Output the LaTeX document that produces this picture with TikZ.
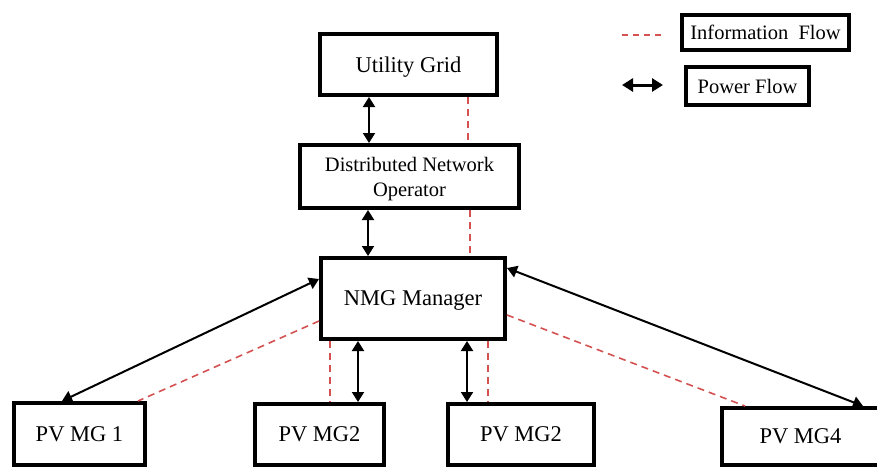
\documentclass[tikz,border=0pt]{standalone}
\usepackage{fontspec}
\setmainfont{Liberation Serif}
\usetikzlibrary{arrows.meta}
\definecolor{infored}{RGB}{212,82,82}
\begin{document}
\begin{tikzpicture}[x=1pt,y=-1pt,
  box/.style={draw=black,line width=4pt,rectangle,inner sep=0pt,align=center,text depth=0pt,
    font=\fontsize{22.5}{27}\selectfont},
  smallbox/.style={box,font=\fontsize{20.5}{25}\selectfont},
  power/.style={line width=2pt,{Triangle[width=12pt,length=10pt]}-{Triangle[width=12pt,length=10pt]}},
  info/.style={infored,line width=1.6pt,dash pattern=on 7pt off 5pt}]
\clip (0,0) rectangle (877,469);
% boxes
\node[box,minimum width=177pt,minimum height=61pt] (ug) at (408.5,64.5) {Utility Grid};
\node[smallbox,minimum width=219pt,minimum height=63pt] (dno) at (409.5,176.5) {Distributed Network\\Operator};
\node[box,minimum width=184pt,minimum height=81pt] (nmg) at (413,298.5) {NMG Manager};
\node[box,minimum width=131pt,minimum height=62pt] (mg1) at (79.5,434) {PV MG 1};
\node[box,minimum width=129pt,minimum height=61pt] (mg2a) at (319.5,434.5) {PV MG2};
\node[box,minimum width=146pt,minimum height=61pt] (mg2b) at (521,434.5) {PV MG2};
\node[box,minimum width=157pt,minimum height=57pt] (mg4) at (800.5,436.5) {PV MG4};
% legend
\node[smallbox,minimum width=167pt,minimum height=35pt] (linfo) at (765.5,32.5) {Information\ \ Flow};
\node[smallbox,minimum width=123pt,minimum height=38pt] (lpow) at (747.5,86) {Power Flow};
\coordinate (ia) at (622,35);
\coordinate (ib) at (662,35);
\draw[info,dash pattern=on 6pt off 5pt] (ia) -- (ib);
\coordinate (pa) at (622,85);
\coordinate (pb) at (663,85);
\draw[line width=3pt,{Triangle[width=13pt,length=11pt]}-{Triangle[width=13pt,length=11pt]}] (pa) -- (pb);
% power flows
\draw[power] (ug.south -| 369,0) -- (dno.north -| 369,0);
\draw[power] (dno.south -| 368,0) -- (nmg.north -| 368,0);
\draw[power] (nmg.south -| 358,0) -- (mg2a.north -| 358,0);
\draw[power] (nmg.south -| 467,0) -- (mg2b.north -| 467,0);
\draw[power] (nmg.west |- 0,279) -- (mg1.north -| 62,0);
\draw[power] (nmg.east |- 0,268) -- (mg4.north -| 863,0);
% information flows
\draw[info] (ug.south -| 468,0) -- (dno.north -| 468,0);
\draw[info] (dno.south -| 470,0) -- (nmg.north -| 470,0);
\draw[info] (nmg.south -| 330,0) -- (mg2a.north -| 330,0);
\draw[info] (nmg.south -| 488,0) -- (mg2b.north -| 488,0);
\draw[info] (nmg.west |- 0,321) -- (mg1.north -| 138,0);
\draw[info] (nmg.east |- 0,315) -- (mg4.north -| 745,0);
\end{tikzpicture}
\end{document}
